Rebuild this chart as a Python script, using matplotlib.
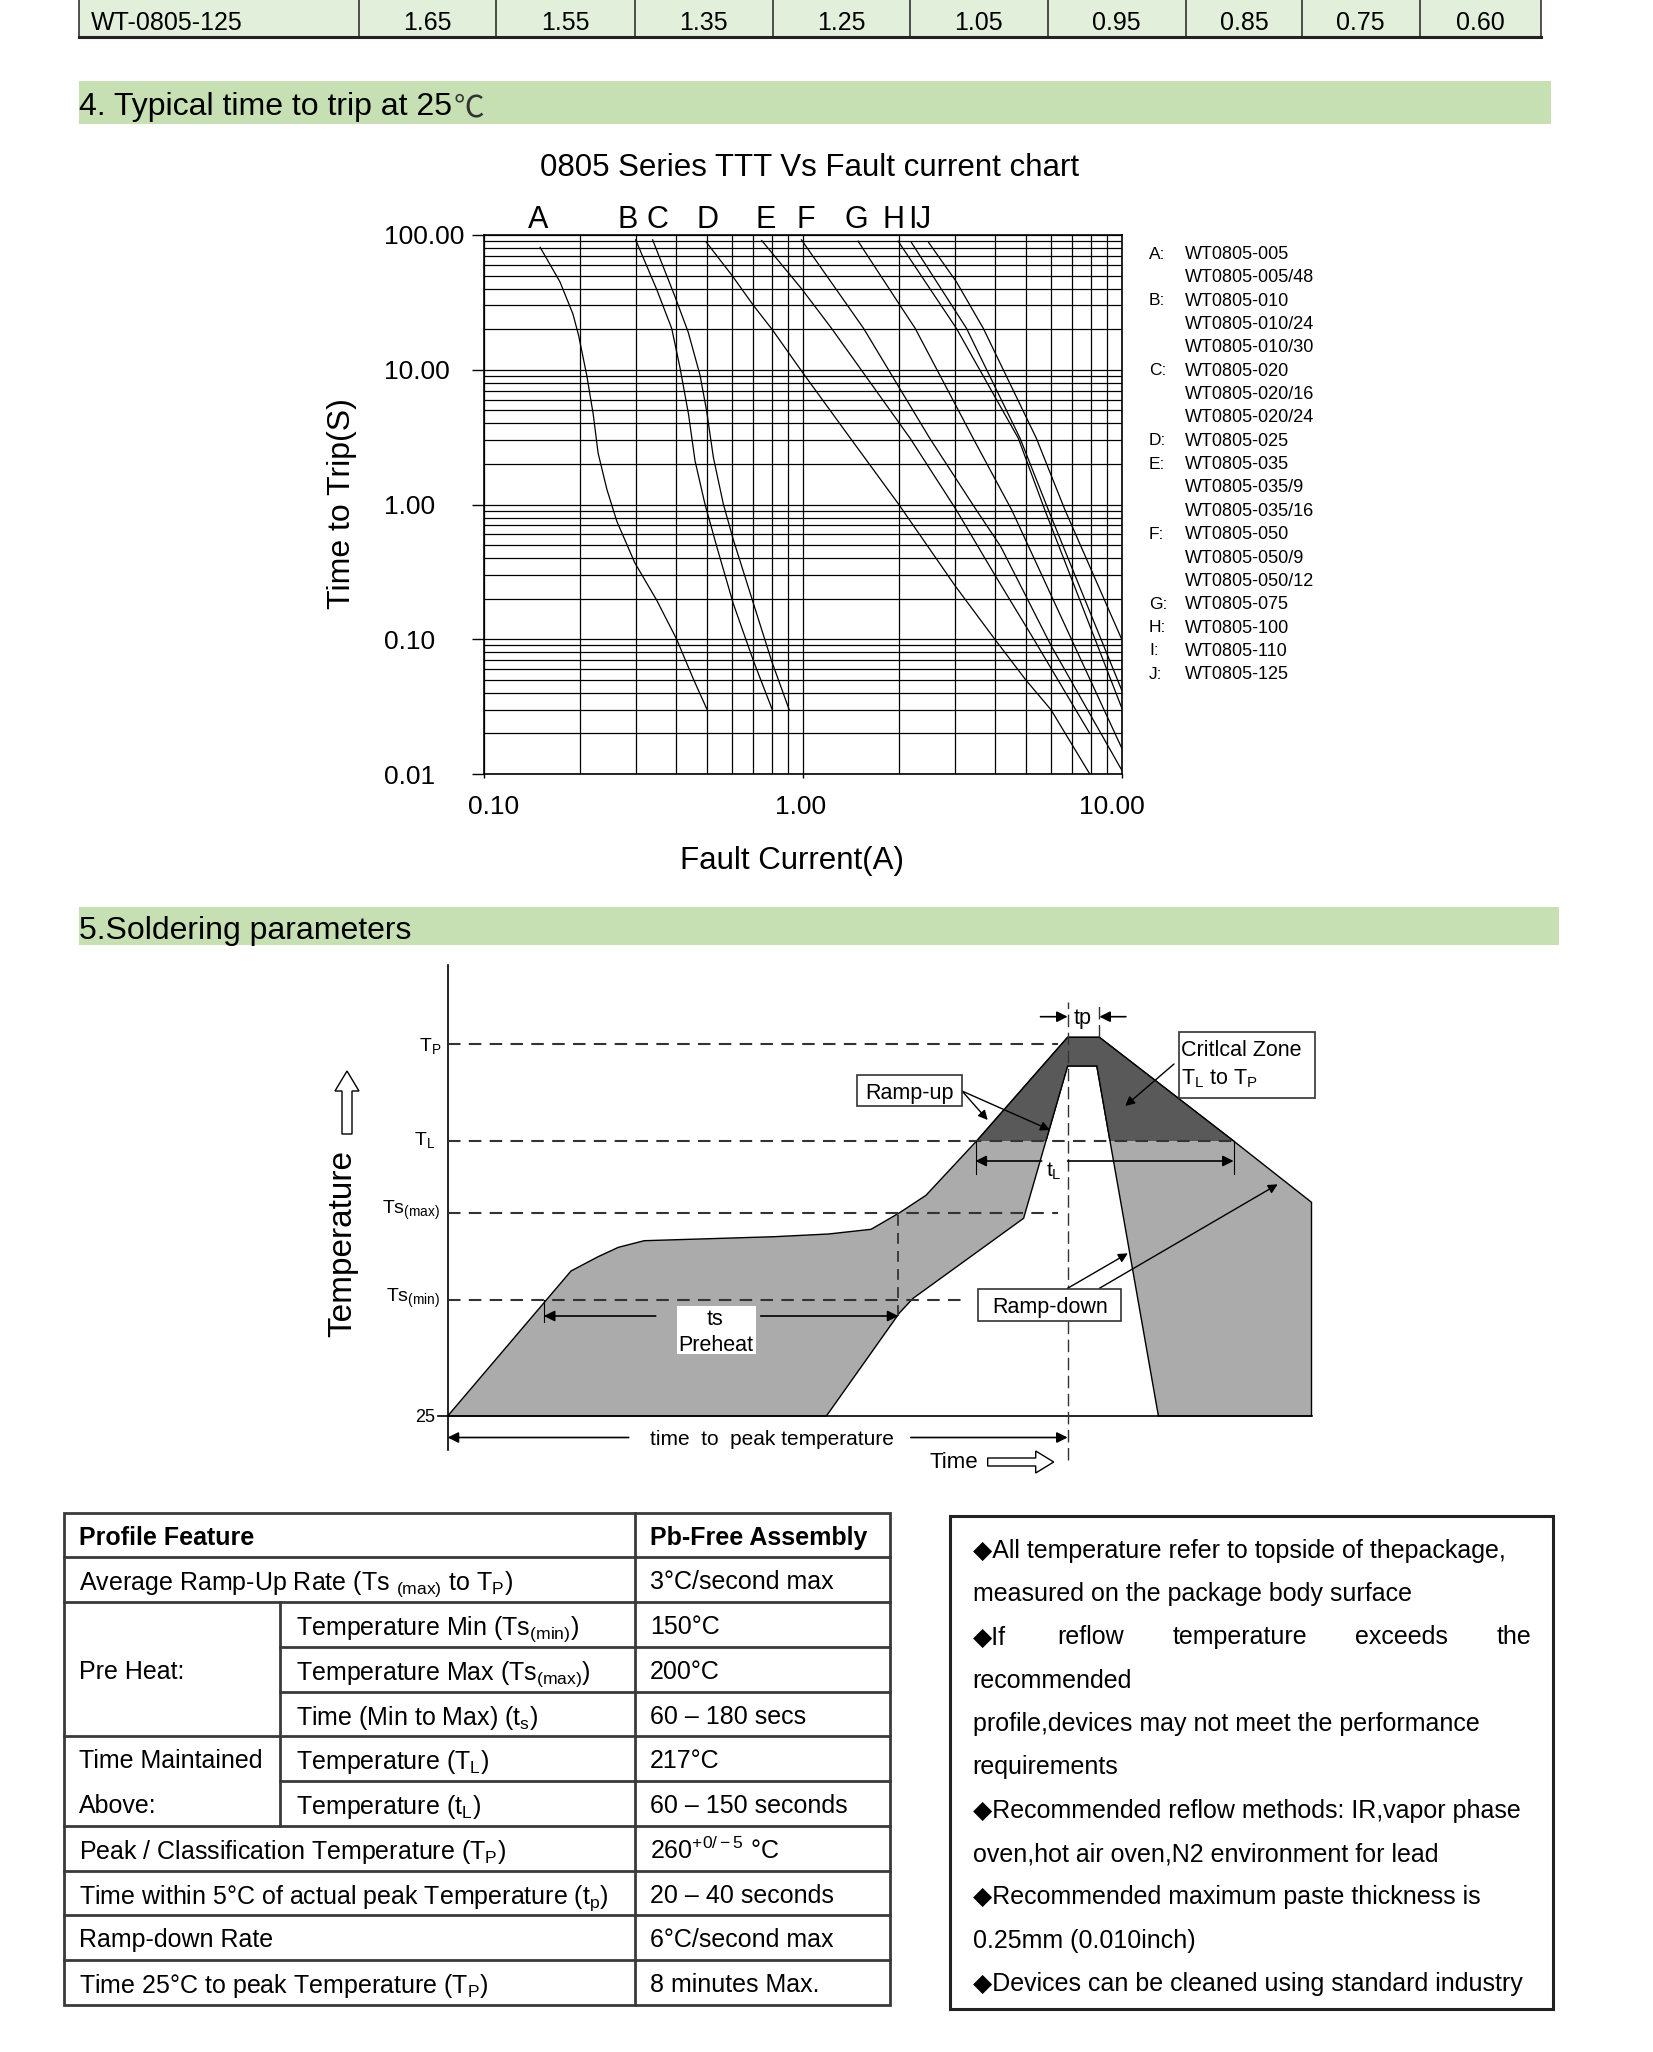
import matplotlib
matplotlib.use('Agg')
import numpy as np
import matplotlib.pyplot as plt
import matplotlib.transforms as mtransforms
from matplotlib import ticker
from matplotlib.patches import Polygon, Rectangle, FancyArrow

plt.rcParams['font.family'] = ['Liberation Sans', 'DejaVu Sans']
plt.rcParams['mathtext.fontset'] = 'custom'
plt.rcParams['mathtext.rm'] = 'Liberation Sans'
plt.rcParams['mathtext.it'] = 'Liberation Sans:italic'
plt.rcParams['mathtext.bf'] = 'Liberation Sans:bold'

W, H = 1653, 2052

# ---------------- data ----------------
rating_part = 'WT-0805-125'
rating_vals = ['1.65', '1.55', '1.35', '1.25', '1.05', '0.95', '0.85', '0.75', '0.60']

# time to trip curves: fault current (A) / time (s)
A_I = [0.150, 0.173, 0.190, 0.198, 0.210, 0.220, 0.228, 0.243, 0.261, 0.297, 0.348, 0.402, 0.453, 0.501]
A_t = [81, 45, 26, 18, 9.1, 4.7, 2.4, 1.29, 0.75, 0.37, 0.195, 0.10, 0.051, 0.030]
B_I = [0.299, 0.348, 0.388, 0.412, 0.438, 0.459, 0.493, 0.537, 0.605, 0.70, 0.802]
B_t = [92, 39.5, 20.2, 10.3, 4.67, 2.11, 1.01, 0.487, 0.184, 0.069, 0.030]
C_I = [0.338, 0.397, 0.437, 0.476, 0.499, 0.524, 0.563, 0.605, 0.70, 0.798, 0.906]
C_t = [92, 35, 19, 9.1, 4.97, 2.24, 1.01, 0.55, 0.184, 0.069, 0.030]
D_I = [0.497, 0.60, 0.70, 0.80, 0.99, 1.41, 2.0, 3.0, 4.0, 5.0, 6.0, 7.94]
D_t = [89, 50, 30, 20, 9.8, 3.1, 1.0, 0.25, 0.10, 0.05, 0.03, 0.01]
E_I = [0.743, 0.99, 1.23, 2.17, 3.03, 4.0, 5.3, 7.94]
E_t = [91, 40, 20.3, 3.1, 0.91, 0.30, 0.10, 0.02]
F_I = [0.99, 1.55, 2.5, 3.5, 4.17, 6.0, 10.0]
F_t = [92, 20.3, 3.1, 0.91, 0.49, 0.09, 0.0107]
G_I = [1.49, 2.0, 2.25, 3.42, 4.52, 10.0]
G_t = [90, 31, 20.3, 3.1, 0.91, 0.0156]
H_I = [1.99, 3.03, 4.74, 5.74, 10.0]
H_t = [90, 20.3, 3.1, 0.91, 0.031]
I_I = [2.19, 3.26, 4.8, 5.89, 10.0]
I_t = [88, 20.3, 3.1, 0.91, 0.042]
J_I = [2.48, 3.03, 3.68, 5.4, 6.64, 10.0]
J_t = [88, 45, 20.3, 3.1, 0.91, 0.10]

curve_names = ['A', 'B', 'C', 'D', 'E', 'F', 'G', 'H', 'I', 'J']
curve_label_I = [0.148, 0.283, 0.349, 0.504, 0.766, 1.02, 1.476, 1.93, 2.2, 2.39]
curves = {'A': (A_I, A_t), 'B': (B_I, B_t), 'C': (C_I, C_t), 'D': (D_I, D_t), 'E': (E_I, E_t),
          'F': (F_I, F_t), 'G': (G_I, G_t), 'H': (H_I, H_t), 'I': (I_I, I_t), 'J': (J_I, J_t)}

ytick_vals = [100, 10, 1, 0.1, 0.01]
ytick_labs = ['100.00', '10.00', '1.00', '0.10', '0.01']
xtick_vals = [0.1, 1, 10]
xtick_labs = ['0.10', '1.00', '10.00']

legend_letters = ['A', '', 'B', '', '', 'C', '', '', 'D', 'E', '', '', 'F', '', '', 'G', 'H', 'I', 'J']
legend_parts = ['WT0805-005', 'WT0805-005/48', 'WT0805-010', 'WT0805-010/24', 'WT0805-010/30',
                'WT0805-020', 'WT0805-020/16', 'WT0805-020/24', 'WT0805-025', 'WT0805-035',
                'WT0805-035/9', 'WT0805-035/16', 'WT0805-050', 'WT0805-050/9', 'WT0805-050/12',
                'WT0805-075', 'WT0805-100', 'WT0805-110', 'WT0805-125']

# reflow profile sketch (schematic units)
outer_x = [0, 123.3, 150.4, 170.7, 196.5, 326.5, 380.8, 423.4, 451.9, 478.3, 529.8, 619.9, 651.7, 785.9, 863.8, 863.8]
outer_y = [0, 145, 159.3, 168.7, 175.3, 179.3, 182, 186.7, 203.3, 220.7, 276, 378.7, 378.7, 275, 213.7, 0]
inner_x = [710.7, 649.1, 619.9, 575.9, 465.4, 451.9, 378.7]
inner_y = [0, 350, 350, 197.7, 117.7, 103.3, 0]
lvl_labels = ['T$_{\\mathregular{P}}$', 'T$_{\\mathregular{L}}$', 'Ts$_{\\mathregular{(max)}}$',
              'Ts$_{\\mathregular{(min)}}$', '25']
lvl_y = [372.3, 275, 203.3, 116, 0]
lvl_end = [609.8, 785.9, 609.8, 512.9, 863.8]

# profile table
tbl_head = ['Profile Feature', 'Pb-Free Assembly']
tbl_feat = ['Average Ramp-Up Rate (Ts $_{\\mathregular{(max)}}$ to T$_{\\mathregular{P}}$)',
            'Temperature Min (Ts$_{\\mathregular{(min)}}$)',
            'Temperature Max (Ts$_{\\mathregular{(max)}}$)',
            'Time (Min to Max) (t$_{\\mathregular{s}}$)',
            'Temperature (T$_{\\mathregular{L}}$)',
            'Temperature (t$_{\\mathregular{L}}$)',
            'Peak / Classification Temperature (T$_{\\mathregular{P}}$)',
            'Time within 5°C of actual peak Temperature (t$_{\\mathregular{p}}$)',
            'Ramp-down Rate',
            'Time 25°C to peak Temperature (T$_{\\mathregular{P}}$)']
tbl_val = ['3°C/second max', '150°C', '200°C', '60 – 180 secs', '217°C', '60 – 150 seconds',
           '260$^{\\mathregular{+0/-5}}$ °C', '20 – 40 seconds', '6°C/second max', '8 minutes Max.']
tbl_indent = [False, True, True, True, True, True, False, False, False, False]

notes = ['◆All temperature refer to topside of thepackage,',
         'measured on the package body surface',
         None,
         'recommended',
         'profile,devices may not meet the performance',
         'requirements',
         '◆Recommended reflow methods: IR,vapor phase',
         'oven,hot air oven,N2 environment for lead',
         '◆Recommended maximum paste thickness is',
         '0.25mm (0.010inch)',
         '◆Devices can be cleaned using standard industry']
justified_words = ['◆If', 'reflow', 'temperature', 'exceeds', 'the']

# ---------------- figure ----------------
fig = plt.figure(figsize=(W / 100, H / 100), dpi=100)
page = fig.add_axes([0, 0, 1, 1])
page.set_xlim(0, W)
page.set_ylim(H, 0)
page.axis('off')
renderer = fig.canvas.get_renderer()

# top table remnant
col_x = [79, 358.5, 496, 635, 772.5, 910, 1047.5, 1186, 1302, 1419.5, 1541]
page.add_patch(Rectangle((79, -2), 1541 - 79, 39, fc='#e2efda', ec='none'))
for x in col_x:
    page.plot([x, x], [0, 37], color='#333333', lw=1.2)
page.plot([79, 1541], [37, 37], color='#222222', lw=2.2)
page.text(91, 21, rating_part, fontsize=18, va='center_baseline')
for i, v in enumerate(rating_vals):
    page.text((col_x[i + 1] + col_x[i + 2]) / 2, 21, v, fontsize=18, ha='center', va='center_baseline')

# section bars
page.add_patch(Rectangle((79, 81), 1472, 43, fc='#c6e0b4', ec='none'))
h4 = page.text(79, 104, '4. Typical time to trip at 25', fontsize=23, va='center_baseline')
bb = h4.get_window_extent(renderer)
page.annotate('℃', xy=(bb.x1 + 2, 0), xycoords=('figure pixels', 'figure pixels'),
              xytext=(0, 0), textcoords='offset points', fontsize=22, color='#333333',
              family=['Noto Sans CJK SC', 'DejaVu Sans'], weight='light', alpha=0)
page.text(0, 104, '℃', fontsize=22, va='center_baseline', color='#333333',
          family=['Noto Sans CJK SC', 'DejaVu Sans'], weight='light',
          transform=mtransforms.blended_transform_factory(
              mtransforms.IdentityTransform(), page.transData) + mtransforms.Affine2D().translate(bb.x1 + 2, 0))
page.add_patch(Rectangle((79, 907), 1480, 38, fc='#c6e0b4', ec='none'))
page.text(79, 927, '5.Soldering parameters', fontsize=23, va='center_baseline')

# ---------------- TTT chart ----------------
ax = fig.add_axes([484 / W, 1 - 774 / H, (1121.7 - 484) / W, (774 - 235) / H])
ax.set_xscale('log')
ax.set_yscale('log')
ax.set_xlim(0.1, 10)
ax.set_ylim(0.01, 100)
ax.xaxis.set_minor_locator(ticker.LogLocator(base=10, subs=np.arange(2, 10)))
ax.yaxis.set_minor_locator(ticker.LogLocator(base=10, subs=np.arange(2, 10)))
ax.grid(True, which='both', color='black', lw=0.9)
ax.tick_params(which='minor', length=0)
ax.tick_params(axis='y', which='major', length=9, width=1, direction='out', labelleft=False)
ax.tick_params(axis='x', which='major', length=3, width=1, direction='out', labelbottom=False)
for s in ax.spines.values():
    s.set_linewidth(1.2)
for n in curve_names:
    ci, ct = curves[n]
    ax.plot(ci, ct, color='black', lw=0.9)

ty = mtransforms.blended_transform_factory(page.transData, ax.transData)
tx = mtransforms.blended_transform_factory(ax.transData, page.transData)
for v, lab in zip(ytick_vals, ytick_labs):
    page.text(384, v, lab, transform=ty, fontsize=19, ha='left', va='center_baseline')
for v, lab, dx in zip(xtick_vals, xtick_labs, [10, -2, -10]):
    t = page.text(v, 804, lab, transform=tx, fontsize=19, ha='center', va='center_baseline')
    t.set_transform(tx + mtransforms.Affine2D().translate(dx, 0))
for n, li in zip(curve_names, curve_label_I):
    page.text(li, 228, n, transform=tx, fontsize=22, ha='center', va='baseline')

page.text(810, 164, '0805 Series TTT Vs Fault current chart', fontsize=22.5, ha='center', va='center_baseline')
page.text(342, 504, 'Time to Trip(S)', fontsize=23, rotation=90, ha='center', va='center')
page.text(792, 857, 'Fault Current(A)', fontsize=22.5, ha='center', va='center_baseline')

for i, (let, part) in enumerate(zip(legend_letters, legend_parts)):
    y = 252.6 + i * 23.34
    if let:
        page.text(1149, y, let + ':', fontsize=12.5, va='center_baseline')
    page.text(1185, y, part, fontsize=13, va='center_baseline')

# ---------------- reflow profile ----------------
sx = fig.add_axes([330 / W, 1 - 1480 / H, 1010 / W, 530 / H])
sx.set_xlim(-117.7, 892.3)
sx.set_ylim(-64, 466)
sx.axis('off')

verts = list(zip(outer_x, outer_y)) + list(zip(inner_x, inner_y))
sx.add_patch(Polygon(verts, closed=True, fc='#ababab', ec='black', lw=1.0))
dark = Polygon(verts, closed=True, fc='#595959', ec='black', lw=1.0)
sx.add_patch(dark)
dark.set_clip_path(Rectangle((-200, lvl_y[1]), 1300, 300, transform=sx.transData))

sx.plot([0, 0], [-34, 451], color='black', lw=1.2)
sx.plot([0, lvl_end[4]], [0, 0], color='black', lw=1.2)
sx.plot([-10, 0], [0, 0], color='black', lw=1.2)
for lab, y, xe in zip(lvl_labels, lvl_y, lvl_end):
    if y > 0:
        sx.plot([0, xe], [y, y], color='#333333', lw=1.5, ls=(0, (6, 4)))
sx.text(-6, 373, lvl_labels[0], fontsize=14, ha='right', va='center_baseline')
sx.text(-12, 279, lvl_labels[1], fontsize=14, ha='right', va='center_baseline')
sx.text(-8, 210, lvl_labels[2], fontsize=14, ha='right', va='center_baseline')
sx.text(-8, 122, lvl_labels[3], fontsize=14, ha='right', va='center_baseline')
sx.text(-13, 1, lvl_labels[4], fontsize=13, ha='right', va='center_baseline')

# guide lines
sx.plot([619.9, 619.9], [-44, 414], color='#333333', lw=1.0, ls=(0, (9, 4)))
sx.plot([651.7, 651.7], [378.7, 414], color='#333333', lw=1.0, ls=(0, (9, 4)))
sx.plot([450.6, 450.6], [100, 203.3], color='#333333', lw=1.3, ls=(0, (6, 4)))
sx.plot([96.2, 96.2], [94, 116], color='black', lw=0.8)
sx.plot([527.8, 527.8], [242, 275], color='black', lw=0.8)
sx.plot([785.9, 785.9], [242, 275], color='black', lw=0.8)

ap = dict(arrowstyle='-|>', color='black', lw=1.2, mutation_scale=16, shrinkA=0, shrinkB=0)
sx.annotate('', xy=(96.2, 100), xytext=(208, 100), arrowprops=ap)
sx.annotate('', xy=(450.6, 100), xytext=(313, 100), arrowprops=ap)
sx.annotate('', xy=(527.8, 255), xytext=(594, 255), arrowprops=ap)
sx.annotate('', xy=(785.9, 255), xytext=(619.9, 255), arrowprops=ap)
sx.annotate('', xy=(619.9, 399.3), xytext=(592.8, 399.3), arrowprops=ap)
sx.annotate('', xy=(651.7, 399.3), xytext=(678.2, 399.3), arrowprops=ap)
sx.annotate('', xy=(0, -21.5), xytext=(181, -21.5), arrowprops=ap)
sx.annotate('', xy=(619.9, -21.5), xytext=(463, -21.5), arrowprops=ap)
ap2 = dict(arrowstyle='-|>', color='black', lw=1.0, mutation_scale=14, shrinkA=0, shrinkB=0)
sx.annotate('', xy=(540, 296), xytext=(514.3, 325), arrowprops=ap2)
sx.annotate('', xy=(602.3, 286), xytext=(514.3, 325), arrowprops=ap2)
sx.annotate('', xy=(677.5, 310), xytext=(726.3, 352), arrowprops=ap2)
sx.annotate('', xy=(680.2, 162.7), xytext=(619.9, 127.7), arrowprops=ap2)
sx.annotate('', xy=(830, 231.7), xytext=(651.7, 127.7), arrowprops=ap2)

# boxes and labels
sx.add_patch(Rectangle((409.3, 310), 105, 31, fc='white', ec='#333333', lw=1.2, zorder=3))
sx.text(461.8, 325.5, 'Ramp-up', fontsize=15.5, ha='center', va='center_baseline', zorder=4)
sx.add_patch(Rectangle((731, 317.7), 136.3, 66.6, fc='white', ec='#333333', lw=1.2, zorder=3))
sx.text(733, 367.5, 'Critlcal Zone', fontsize=15.5, ha='left', va='center_baseline', zorder=4)
sx.text(733, 340, 'T$_{\\mathregular{L}}$ to T$_{\\mathregular{P}}$', fontsize=15.5, ha='left',
        va='center_baseline', zorder=4)
sx.add_patch(Rectangle((530.5, 95), 142.9, 31.7, fc='white', ec='#333333', lw=1.2, zorder=3))
sx.text(602, 110.8, 'Ramp-down', fontsize=15.5, ha='center', va='center_baseline', zorder=4)
sx.add_patch(Rectangle((229.7, 62), 78.6, 48.5, fc='white', ec='none', zorder=3))
sx.text(267, 99, 'ts', fontsize=15.5, ha='center', va='center_baseline', zorder=4)
sx.text(268, 73, 'Preheat', fontsize=15.5, ha='center', va='center_baseline', zorder=4)
sx.text(606, 247, 't$_{\\mathregular{L}}$', fontsize=15, ha='center', va='center_baseline')
sx.text(634.8, 400, 'tp', fontsize=15.5, ha='center', va='center_baseline')
sx.text(324.6, -21.5, 'time  to  peak temperature', fontsize=15, ha='center', va='center_baseline')
sx.text(505.8, -43.5, 'Time', fontsize=16, ha='center', va='center_baseline')
sx.add_patch(FancyArrow(540, -46, 66, 0, width=8, head_width=22, head_length=18,
                        length_includes_head=True, fc='white', ec='black', lw=1))
sx.add_patch(FancyArrow(-100.7, 282, 0, 63, width=10, head_width=24, head_length=20,
                        length_includes_head=True, fc='white', ec='black', lw=1))
sx.text(-104.7, 172.5, 'Temperature', fontsize=24, rotation=90, ha='center', va='center')

# ---------------- profile table ----------------
tc = [64.3, 279.8, 634.8, 890]
ty0, rh = 1512.7, 44.75
nrow = len(tbl_feat) + 1
lc = '#3a3a3a'
page.add_patch(Rectangle((tc[0], ty0), tc[3] - tc[0], rh * nrow, fc='white', ec=lc, lw=2))
page.plot([tc[2], tc[2]], [ty0, ty0 + rh * nrow], color=lc, lw=2)
page.plot([tc[1], tc[1]], [ty0 + rh * 2, ty0 + rh * 7], color=lc, lw=2)
for r in range(1, nrow):
    y = ty0 + rh * r
    x0 = tc[1] if r in (3, 4, 6) else tc[0]
    page.plot([x0, tc[3]], [y, y], color=lc, lw=2)
page.text(78.8, ty0 + rh * 0.5, tbl_head[0], fontsize=18, weight='bold', va='center_baseline')
page.text(649.8, ty0 + rh * 0.5, tbl_head[1], fontsize=18, weight='bold', va='center_baseline')
for i, (f, v, ind) in enumerate(zip(tbl_feat, tbl_val, tbl_indent)):
    yc = ty0 + rh * (i + 1.5)
    page.text(296 if ind else 78.8, yc, f, fontsize=18, va='center_baseline')
    page.text(649.8, yc, v, fontsize=18, va='center_baseline')
page.text(78.8, ty0 + rh * 3.5, 'Pre Heat:', fontsize=18, va='center_baseline')
page.text(78.8, ty0 + rh * 5.5, 'Time Maintained', fontsize=18, va='center_baseline')
page.text(78.8, ty0 + rh * 6.5, 'Above:', fontsize=18, va='center_baseline')

# ---------------- notes box ----------------
page.add_patch(Rectangle((950.3, 1515.8), 602.2, 493.2, fc='white', ec='#222222', lw=2.2))
for i, line in enumerate(notes):
    y = 1548.3 + i * 43.33
    if line is None:
        for wx, w in zip([972.6, 1057.7, 1173, 1355], justified_words[:-1]):
            page.text(wx, y, w, fontsize=18, va='center_baseline')
        page.text(1531, y, justified_words[-1], fontsize=18, ha='right', va='center_baseline')
    else:
        page.text(972.6, y, line, fontsize=18, va='center_baseline')

fig.savefig('out.png', dpi=100)
